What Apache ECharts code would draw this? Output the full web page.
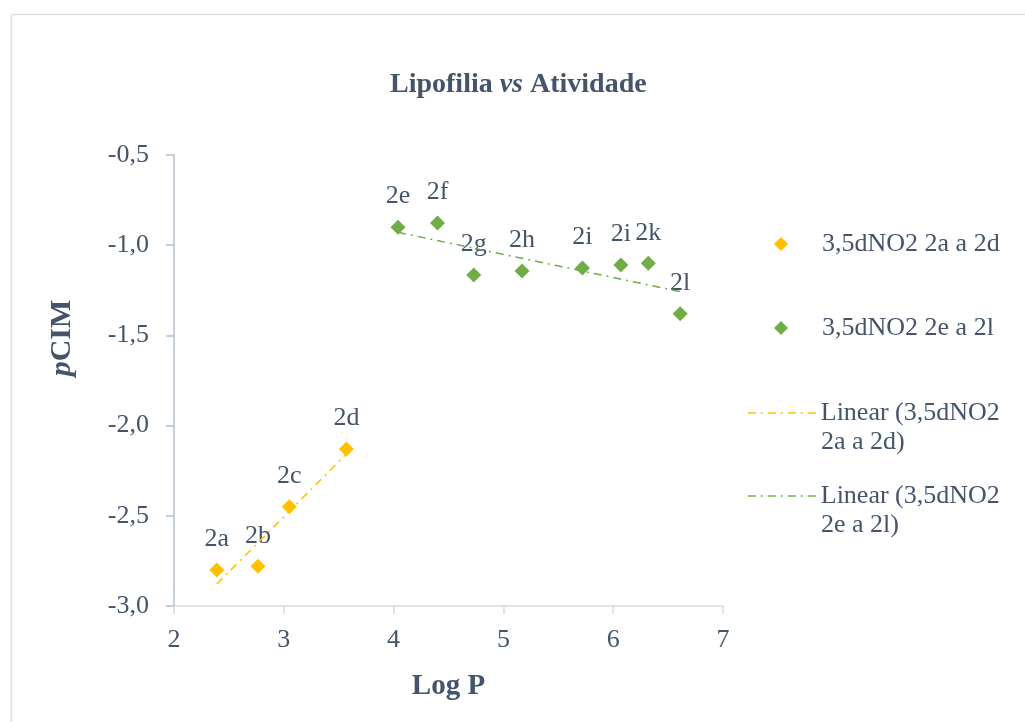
<!DOCTYPE html>
<html>
<head>
<meta charset="utf-8">
<script src="https://cdn.jsdelivr.net/npm/echarts@6/dist/echarts.min.js"></script>
<style>html,body{margin:0;padding:0;background:#fff;}#c{width:1025px;height:722px;}</style>
</head>
<body>
<div id="c"></div>
<script>
// Data
var groupANames = ['2a', '2b', '2c', '2d'];
var groupAX = [2.39, 2.765, 3.05, 3.57];
var groupAY = [-2.80, -2.78, -2.45, -2.13];

var groupBNames = ['2e', '2f', '2g', '2h', '2i', '2i', '2k', '2l'];
var groupBX = [4.04, 4.40, 4.73, 5.17, 5.72, 6.07, 6.32, 6.61];
var groupBY = [-0.90, -0.877, -1.165, -1.143, -1.126, -1.11, -1.10, -1.38];

var seriesNames = ['3,5dNO2 2a a 2d', '3,5dNO2 2e a 2l', 'Linear (3,5dNO2 2a a 2d)', 'Linear (3,5dNO2 2e a 2l)'];
var xTicks = {min: 2, max: 7, interval: 1};
var yTicks = {min: -3, max: -0.5, interval: 0.5};

function points(names, xs, ys) {
  return xs.map(function (x, i) { return {name: names[i], value: [x, ys[i]]}; });
}
// least-squares trend line (Excel "Linear" trendline) from the points above
function trend(xs, ys) {
  var n = xs.length, mx = 0, my = 0, sxy = 0, sxx = 0;
  xs.forEach(function (x, i) { mx += x; my += ys[i]; });
  mx /= n; my /= n;
  xs.forEach(function (x, i) { sxy += (x - mx) * (ys[i] - my); sxx += (x - mx) * (x - mx); });
  var b = sxy / sxx, a = my - b * mx;
  var x0 = Math.min.apply(null, xs), x1 = Math.max.apply(null, xs);
  return [[x0, a + b * x0], [x1, a + b * x1]];
}

var TXT = '#44546A';
var FONT = "'Liberation Serif', 'Times New Roman', serif";
var ORANGE = '#FFC000', GREEN = '#70AD47';
var DASH = [8, 5, 2, 5];

var chart = echarts.init(document.getElementById('c'), null, {renderer: 'canvas'});

function legendAt(idx, top, color) {
  var isLine = idx >= 2;
  var item = {name: seriesNames[idx]};
  var ts = {fontFamily: FONT, fontSize: 26, color: TXT, lineHeight: 28};
  if (isLine) {
    item.itemStyle = {opacity: 0};
    item.lineStyle = {color: color, width: 1.5, type: DASH, opacity: 1};
  } else {
    item.icon = 'diamond';
    ts.padding = [0, 0, 0, 29];
  }
  return {
    data: [item], orient: 'vertical', left: isLine ? 747 : 774, top: top, padding: 0,
    itemWidth: isLine ? 68 : 14, itemHeight: 14, selectedMode: false,
    formatter: function (n) { return n.indexOf('Linear') === 0 ? n.split(' 2')[0] : n; },
    textStyle: ts
  };
}

var labelStyle = {show: true, position: 'top', distance: 10, formatter: '{b}',
  fontFamily: FONT, fontSize: 26, color: TXT};

chart.setOption({
  animation: false,
  backgroundColor: '#fff',
  title: {
    text: 'Lipofilia {i|vs} Atividade', left: 385, top: 66,
    textStyle: {fontFamily: FONT, fontSize: 28, fontWeight: 'bold', color: TXT,
      rich: {i: {fontFamily: FONT, fontSize: 28, fontWeight: 'bold', fontStyle: 'italic', color: TXT}}}
  },
  grid: {left: 174, right: 302, top: 155, bottom: 116},
  legend: [
    legendAt(0, 230, ORANGE),
    legendAt(1, 314, GREEN),
    legendAt(2, 399, ORANGE),
    legendAt(3, 482, GREEN)
  ],
  xAxis: {
    type: 'value', min: xTicks.min, max: xTicks.max, interval: xTicks.interval,
    name: 'Log P', nameLocation: 'middle', nameGap: 66,
    nameTextStyle: {fontFamily: FONT, fontSize: 29, fontWeight: 'bold', color: TXT},
    axisLine: {show: true, lineStyle: {color: '#D5DAE2', width: 1.5}},
    axisTick: {show: true, length: 8, lineStyle: {color: '#D5DAE2', width: 1.5}},
    axisLabel: {margin: 21, fontFamily: FONT, fontSize: 26, color: TXT},
    splitLine: {show: false}
  },
  yAxis: {
    type: 'value', min: yTicks.min, max: yTicks.max, interval: yTicks.interval,
    axisLine: {show: true, lineStyle: {color: '#B4BFCD', width: 1.5}},
    axisTick: {show: true, length: 8, lineStyle: {color: '#B4BFCD', width: 1.5}},
    axisLabel: {margin: 25, fontFamily: FONT, fontSize: 26, color: TXT,
      formatter: function (v) { return v.toFixed(1).replace('.', ','); }},
    splitLine: {show: false}
  },
  graphic: [
    {type: 'rect', left: 9, top: 12, z: -10, silent: true,
      shape: {width: 1100, height: 800}, style: {fill: 'none', stroke: '#DDE1E7', lineWidth: 1.5}},
    {type: 'text', x: 62, y: 338, rotation: Math.PI / 2, silent: true,
      style: {text: '{p|p}{c|CIM}', align: 'center', verticalAlign: 'middle',
        rich: {p: {fontFamily: FONT, fontSize: 30, fontWeight: 'bold', fontStyle: 'italic', fill: TXT},
               c: {fontFamily: FONT, fontSize: 30, fontWeight: 'bold', fill: TXT}}}},
    {type: 'text', x: 821, y: 442, silent: true,
      style: {text: '2a a 2d)', verticalAlign: 'middle', fontFamily: FONT, fontSize: 26, fill: TXT}},
    {type: 'text', x: 821, y: 525, silent: true,
      style: {text: '2e a 2l)', verticalAlign: 'middle', fontFamily: FONT, fontSize: 26, fill: TXT}}
  ],
  series: [
    {name: seriesNames[0], type: 'scatter', symbol: 'diamond', symbolSize: 15, z: 3,
      itemStyle: {color: ORANGE, opacity: 1}, label: labelStyle,
      data: points(groupANames, groupAX, groupAY)},
    {name: seriesNames[1], type: 'scatter', symbol: 'diamond', symbolSize: 15, z: 3,
      itemStyle: {color: GREEN, opacity: 1}, label: labelStyle,
      data: points(groupBNames, groupBX, groupBY)},
    {name: seriesNames[2], type: 'line', symbol: 'none', z: 4, color: ORANGE,
      lineStyle: {color: ORANGE, width: 1.5, type: DASH},
      data: trend(groupAX, groupAY)},
    {name: seriesNames[3], type: 'line', symbol: 'none', z: 4, color: GREEN,
      lineStyle: {color: GREEN, width: 1.5, type: DASH},
      data: trend(groupBX, groupBY)}
  ]
});
</script>
</body>
</html>
